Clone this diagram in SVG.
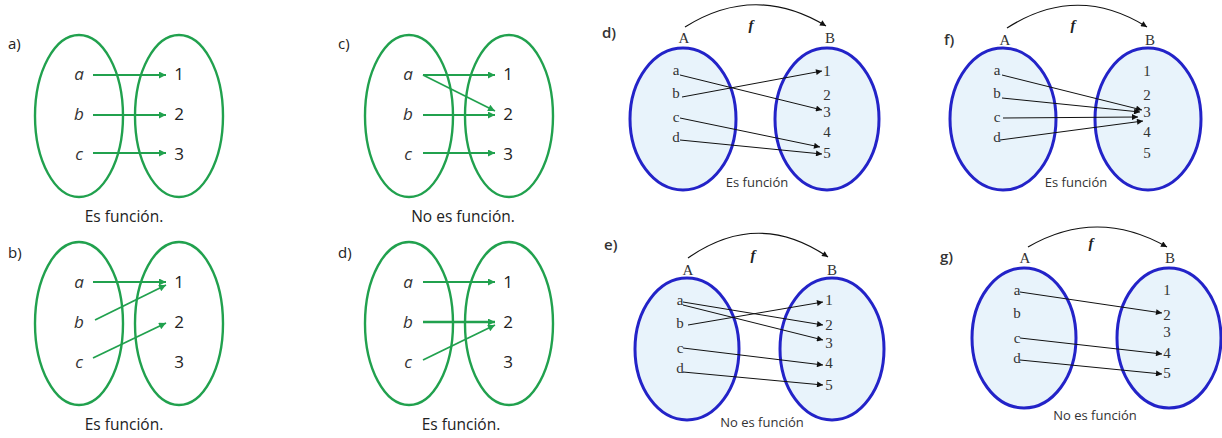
<svg xmlns="http://www.w3.org/2000/svg" width="1222" height="438" viewBox="0 0 1222 438">
<defs>
<marker id="ga" viewBox="0 0 10 10" refX="10" refY="5" markerWidth="9" markerHeight="7" markerUnits="userSpaceOnUse" orient="auto"><path d="M0,0 L10,5 L0,10 z" fill="#21a14e"/></marker>
<marker id="ka" viewBox="0 0 10 10" refX="10" refY="5" markerWidth="7" markerHeight="6" markerUnits="userSpaceOnUse" orient="auto"><path d="M0,0 L10,5 L0,10 z" fill="#111"/></marker>
<style>
.ge{fill:none;stroke:#21a14e;stroke-width:2.4}
.be{fill:#e8f3fb;stroke:#2323c8;stroke-width:3}
.gl{stroke:#21a14e;stroke-width:1.8;fill:none;marker-end:url(#ga)}
.kl{stroke:#111;stroke-width:1;fill:none;marker-end:url(#ka)}
.arc{stroke:#111;stroke-width:1.2;fill:none;marker-end:url(#ka)}
.gi{font-family:"Open Sans","Noto Sans",sans-serif;font-style:italic;font-size:17px;fill:#333;text-anchor:middle}
.gn{font-family:"Open Sans","Noto Sans",sans-serif;font-size:17px;fill:#222;text-anchor:middle}
.cap{font-family:"Open Sans","Noto Sans",sans-serif;font-size:15.5px;fill:#222;text-anchor:middle}
.pl{font-family:"Open Sans","Noto Sans",sans-serif;font-size:15px;fill:#222}
.bl{font-family:"Open Sans","Noto Sans",sans-serif;font-size:15px;font-weight:600;fill:#333}
.st{font-family:"Liberation Serif",serif;font-size:15px;fill:#333;text-anchor:middle}
.fn{font-family:"Liberation Serif",serif;font-size:15px;font-style:italic;font-weight:bold;fill:#222;text-anchor:middle}
.bc{font-family:"Open Sans","Noto Sans",sans-serif;font-size:13px;fill:#333;text-anchor:middle}
</style>
</defs>

<!-- Panel a -->
<g id="panel-a">
<text class="pl" x="8" y="49">a)</text>
<g id="a-setA"><ellipse class="ge" cx="79" cy="116" rx="44" ry="81"/>
<text class="gi" x="79" y="80">a</text><text class="gi" x="79" y="120">b</text><text class="gi" x="79" y="160">c</text></g>
<g id="a-setB"><ellipse class="ge" cx="179" cy="116" rx="44" ry="81"/>
<text class="gn" x="179" y="80">1</text><text class="gn" x="179" y="120">2</text><text class="gn" x="179" y="160">3</text></g>
<text class="cap" x="124" y="222">Es función.</text>
</g>

<!-- Panel b -->
<g id="panel-b">
<text class="pl" x="8" y="258">b)</text>
<g id="b-setA"><ellipse class="ge" cx="79" cy="323.5" rx="44" ry="81.5"/>
<text class="gi" x="79" y="288">a</text><text class="gi" x="79" y="328">b</text><text class="gi" x="79" y="368">c</text></g>
<g id="b-setB"><ellipse class="ge" cx="179" cy="323.5" rx="44" ry="81.5"/>
<text class="gn" x="179" y="288">1</text><text class="gn" x="179" y="328">2</text><text class="gn" x="179" y="368">3</text></g>
<text class="cap" x="124" y="430">Es función.</text>
</g>

<!-- Panel c -->
<g id="panel-c">
<text class="pl" x="338" y="49">c)</text>
<g id="c-setA"><ellipse class="ge" cx="409" cy="116" rx="44" ry="81"/>
<text class="gi" x="408" y="80">a</text><text class="gi" x="408" y="120">b</text><text class="gi" x="408" y="160">c</text></g>
<g id="c-setB"><ellipse class="ge" cx="509" cy="116" rx="44" ry="81"/>
<text class="gn" x="508" y="80">1</text><text class="gn" x="508" y="120">2</text><text class="gn" x="508" y="160">3</text></g>
<text class="cap" x="463" y="222">No es función.</text>
</g>

<!-- Panel d (green) -->
<g id="panel-d-green">
<text class="pl" x="338" y="258">d)</text>
<g id="dg-setA"><ellipse class="ge" cx="409" cy="323.5" rx="44" ry="81.5"/>
<text class="gi" x="408" y="288">a</text><text class="gi" x="408" y="328">b</text><text class="gi" x="408" y="368">c</text></g>
<g id="dg-setB"><ellipse class="ge" cx="509" cy="323.5" rx="44" ry="81.5"/>
<text class="gn" x="508" y="288">1</text><text class="gn" x="508" y="328">2</text><text class="gn" x="508" y="368">3</text></g>
<text class="cap" x="461" y="430">Es función.</text>
</g>

<!-- Panel d (blue) -->
<g id="panel-d-blue">
<text class="bl" x="602" y="38">d)</text>
<text class="st" x="684" y="43">A</text><text class="st" x="830" y="43">B</text>
<text class="fn" x="751" y="30">f</text>
<g id="db-setA"><ellipse class="be" cx="683" cy="119" rx="53" ry="71"/>
<text class="st" x="676" y="75">a</text><text class="st" x="676" y="98">b</text><text class="st" x="676" y="122">c</text><text class="st" x="676" y="142">d</text></g>
<g id="db-setB"><ellipse class="be" cx="827" cy="119" rx="52" ry="71"/>
<text class="st" x="827" y="76">1</text><text class="st" x="827" y="100">2</text><text class="st" x="827" y="117">3</text><text class="st" x="827" y="137">4</text><text class="st" x="827" y="158">5</text></g>
<text class="bc" x="757" y="187">Es función</text>
</g>

<!-- Panel f -->
<g id="panel-f">
<text class="bl" x="944" y="45">f)</text>
<text class="st" x="1005" y="45">A</text><text class="st" x="1150" y="45">B</text>
<text class="fn" x="1073" y="30">f</text>
<g id="f-setA"><ellipse class="be" cx="1003" cy="119" rx="53" ry="71"/>
<text class="st" x="997" y="75">a</text><text class="st" x="997" y="98">b</text><text class="st" x="997" y="122">c</text><text class="st" x="997" y="142">d</text></g>
<g id="f-setB"><ellipse class="be" cx="1148" cy="119" rx="53" ry="71"/>
<text class="st" x="1147" y="76">1</text><text class="st" x="1147" y="100">2</text><text class="st" x="1147" y="117">3</text><text class="st" x="1147" y="137">4</text><text class="st" x="1147" y="158">5</text></g>
<text class="bc" x="1076" y="187">Es función</text>
</g>

<!-- Panel e -->
<g id="panel-e">
<text class="bl" x="604" y="250">e)</text>
<text class="st" x="688" y="275">A</text><text class="st" x="832" y="275">B</text>
<text class="fn" x="753" y="260">f</text>
<g id="e-setA"><ellipse class="be" cx="687" cy="349" rx="52" ry="71"/>
<text class="st" x="680" y="305">a</text><text class="st" x="680" y="328">b</text><text class="st" x="680" y="353">c</text><text class="st" x="680" y="373">d</text></g>
<g id="e-setB"><ellipse class="be" cx="832" cy="349" rx="52" ry="71"/>
<text class="st" x="829" y="305">1</text><text class="st" x="829" y="330">2</text><text class="st" x="829" y="348">3</text><text class="st" x="829" y="368">4</text><text class="st" x="829" y="390">5</text></g>
<text class="bc" x="762" y="427">No es función</text>
</g>

<!-- Panel g -->
<g id="panel-g">
<text class="bl" x="940" y="262">g)</text>
<text class="st" x="1025" y="263">A</text><text class="st" x="1170" y="263">B</text>
<text class="fn" x="1091" y="248">f</text>
<g id="g-setA"><ellipse class="be" cx="1024" cy="338" rx="52" ry="70"/>
<text class="st" x="1017" y="295">a</text><text class="st" x="1017" y="318">b</text><text class="st" x="1017" y="343">c</text><text class="st" x="1017" y="363">d</text></g>
<g id="g-setB"><ellipse class="be" cx="1169" cy="338" rx="52" ry="70"/>
<text class="st" x="1167" y="295">1</text><text class="st" x="1167" y="320">2</text><text class="st" x="1167" y="337">3</text><text class="st" x="1167" y="358">4</text><text class="st" x="1167" y="378">5</text></g>
<text class="bc" x="1095" y="420">No es función</text>
</g>

<!-- Connectors -->
<g id="connectors">
<line class="gl" x1="93" y1="75" x2="166" y2="75"/>
<line class="gl" x1="93" y1="115" x2="166" y2="115"/>
<line class="gl" x1="93" y1="153" x2="166" y2="153"/>
<line class="gl" x1="93" y1="282" x2="166" y2="282"/>
<line class="gl" x1="95" y1="320" x2="166" y2="285"/>
<line class="gl" x1="93" y1="358" x2="166" y2="323"/>
<line class="gl" x1="423" y1="75" x2="495" y2="75"/>
<line class="gl" x1="423" y1="75" x2="495" y2="111"/>
<line class="gl" x1="423" y1="115" x2="495" y2="115"/>
<line class="gl" x1="423" y1="153" x2="495" y2="153"/>
<line class="gl" x1="423" y1="282" x2="495" y2="282"/>
<line class="gl" x1="423" y1="322" x2="495" y2="322" style="stroke-width:2.4"/>
<line class="gl" x1="423" y1="360" x2="495" y2="325"/>
<path class="arc" d="M685,27 Q755,-17 826,26"/>
<line class="kl" x1="680" y1="75" x2="822" y2="110"/>
<line class="kl" x1="682" y1="97" x2="822" y2="71"/>
<line class="kl" x1="680" y1="118" x2="820" y2="147"/>
<line class="kl" x1="680" y1="140" x2="822" y2="154"/>
<path class="arc" d="M1007,28 Q1077,-17 1147,27"/>
<line class="kl" x1="1002" y1="75" x2="1142" y2="110"/>
<line class="kl" x1="1002" y1="98" x2="1140" y2="112"/>
<line class="kl" x1="1003" y1="118" x2="1138" y2="117"/>
<line class="kl" x1="1000" y1="140" x2="1143" y2="121"/>
<path class="arc" d="M688,258 Q758,209 828,257"/>
<line class="kl" x1="683" y1="302" x2="823" y2="325"/>
<line class="kl" x1="683" y1="305" x2="823" y2="340"/>
<line class="kl" x1="688" y1="325" x2="823" y2="302"/>
<line class="kl" x1="683" y1="348" x2="823" y2="365"/>
<line class="kl" x1="683" y1="372" x2="823" y2="385"/>
<path class="arc" d="M1028,247 Q1097,207 1167,247"/>
<line class="kl" x1="1020" y1="292" x2="1162" y2="313"/>
<line class="kl" x1="1020" y1="338" x2="1162" y2="354"/>
<line class="kl" x1="1020" y1="360" x2="1162" y2="374"/>
</g>
</svg>
